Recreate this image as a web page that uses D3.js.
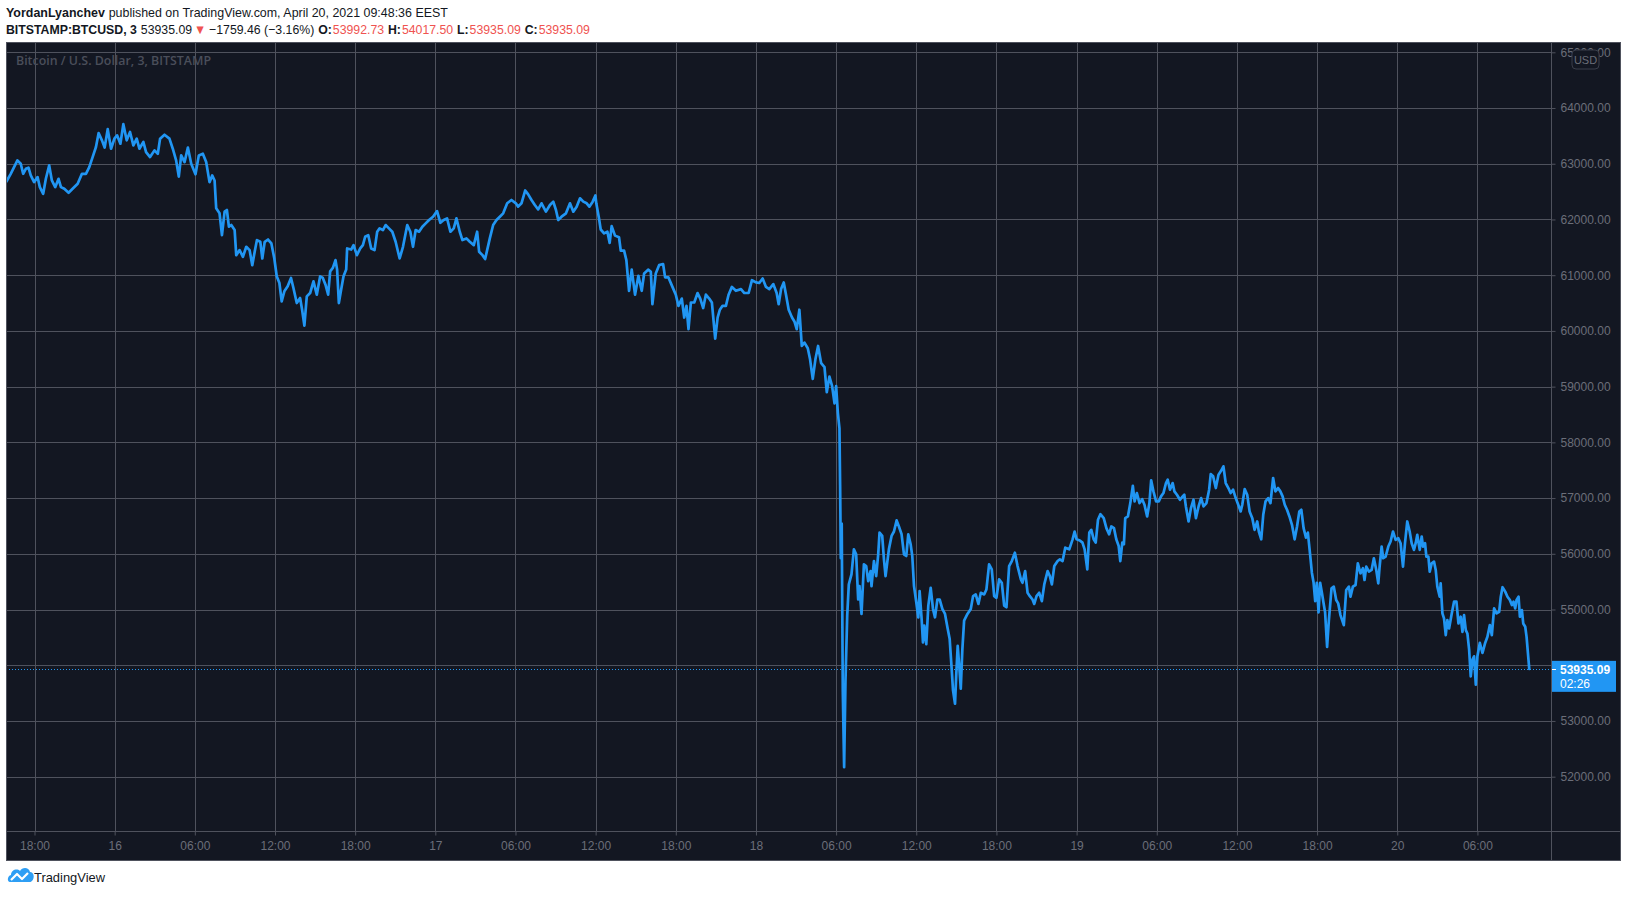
<!DOCTYPE html>
<html>
<head>
<meta charset="utf-8">
<script src="https://cdnjs.cloudflare.com/ajax/libs/d3/7.8.5/d3.min.js"></script>
<style>
  body { margin: 0; background: #ffffff; }
  svg { display: block; font-family: "Liberation Sans", Arial, sans-serif; }
</style>
</head>
<body>
<div id="chart"></div>
<script>
// BITSTAMP:BTCUSD, 3 min closes
const seriesStart = "2021-04-15T18:00";
const viewStart = "2021-04-15T15:52";
const viewEnd = "2021-04-20T11:26";

const hoursFromStart = [
  -2.1, -1.78, -1.53, -1.28, -1.03, -0.85, -0.65, -0.45, -0.28, -0.03, 0.23, 0.4, 0.65, 0.85, 1.1, 1.3, 1.55, 1.8, 1.98, 2.23,
  2.55, 2.85, 3.23, 3.55, 3.85, 4.1, 4.35, 4.6, 4.8, 5.05, 5.25, 5.48, 5.73, 5.98, 6.18, 6.43, 6.65, 6.9, 7.15, 7.4,
  7.65, 7.85, 8.15, 8.35, 8.65, 8.98, 9.23, 9.4, 9.73, 10.1, 10.35, 10.6, 10.8, 10.98, 11.23, 11.48, 11.73, 12.05, 12.3, 12.6,
  12.85, 13.1, 13.3, 13.48, 13.6, 13.85, 14.03, 14.23, 14.4, 14.55, 14.73, 14.98, 15.1, 15.35, 15.6, 15.85, 16.1, 16.3, 16.48, 16.65,
  16.9, 17.05, 17.23, 17.48, 17.73, 17.95, 18.13, 18.33, 18.5, 18.7, 18.95, 19.2, 19.38, 19.63, 19.88, 20.03, 20.2, 20.38, 20.63, 20.88,
  21.13, 21.38, 21.58, 21.78, 21.98, 22.13, 22.33, 22.53, 22.65, 22.78, 22.95, 23.13, 23.33, 23.4, 23.7, 23.88, 24.13, 24.38, 24.58, 24.75,
  24.98, 25.2, 25.45, 25.65, 25.83, 26.08, 26.28, 26.53, 26.78, 27.03, 27.33, 27.58, 27.9, 28.13, 28.33, 28.53, 28.78, 29.03, 29.28, 29.53,
  29.83, 30.13, 30.38, 30.63, 30.88, 31.13, 31.38, 31.58, 31.83, 32.03, 32.33, 32.58, 32.88, 33.13, 33.28, 33.53, 33.73, 33.88, 34.08, 34.33,
  34.58, 34.83, 35.08, 35.38, 35.7, 36.03, 36.2, 36.45, 36.73, 36.95, 37.2, 37.45, 37.7, 37.95, 38.28, 38.58, 38.83, 39.03, 39.2, 39.45,
  39.78, 40.08, 40.33, 40.58, 40.83, 41.08, 41.33, 41.53, 41.78, 41.98, 42.05, 42.25, 42.38, 42.63, 42.88, 43.05, 43.2, 43.45, 43.75, 43.88,
  44.13, 44.3, 44.5, 44.7, 44.95, 45.2, 45.45, 45.63, 45.95, 46.13, 46.25, 46.5, 46.75, 47.05, 47.2, 47.45, 47.75, 48.0, 48.2, 48.45,
  48.63, 48.8, 48.95, 49.13, 49.38, 49.63, 49.83, 50.05, 50.25, 50.5, 50.7, 50.95, 51.13, 51.3, 51.5, 51.75, 51.95, 52.2, 52.5, 52.88,
  53.13, 53.45, 53.7, 54.0, 54.25, 54.5, 54.75, 55.0, 55.3, 55.55, 55.7, 55.88, 56.08, 56.25, 56.45, 56.7, 56.88, 57.05, 57.25, 57.43,
  57.63, 57.88, 58.05, 58.25, 58.45, 58.65, 58.88, 59.13, 59.3, 59.5, 59.7, 59.88, 60.0, 60.13, 60.25, 60.3, 60.35, 60.42, 60.5, 60.6,
  60.7, 60.83, 60.95, 61.15, 61.33, 61.5, 61.65, 61.75, 61.9, 62.08, 62.25, 62.4, 62.58, 62.65, 62.83, 63.0, 63.15, 63.25, 63.45, 63.58,
  63.7, 63.95, 64.15, 64.33, 64.53, 64.7, 64.9, 65.08, 65.25, 65.4, 65.58, 65.7, 65.83, 66.0, 66.15, 66.25, 66.4, 66.5, 66.6, 66.75,
  66.9, 67.08, 67.25, 67.4, 67.58, 67.75, 67.95, 68.15, 68.33, 68.5, 68.65, 68.75, 68.9, 69.0, 69.1, 69.25, 69.33, 69.45, 69.58, 69.83,
  70.08, 70.25, 70.45, 70.65, 70.83, 71.08, 71.25, 71.45, 71.65, 71.83, 72.0, 72.2, 72.4, 72.58, 72.75, 72.95, 73.15, 73.38, 73.58, 73.83,
  73.95, 74.15, 74.33, 74.5, 74.7, 74.83, 75.0, 75.2, 75.4, 75.58, 75.83, 76.0, 76.15, 76.33, 76.58, 76.75, 76.95, 77.15, 77.45, 77.7,
  77.85, 78.0, 78.24, 78.44, 78.6, 78.8, 78.95, 79.1, 79.28, 79.43, 79.6, 79.78, 80.03, 80.23, 80.43, 80.6, 80.8, 80.97, 81.15, 81.27,
  81.42, 81.54, 81.64, 81.84, 82.02, 82.21, 82.34, 82.51, 82.71, 82.91, 83.08, 83.28, 83.45, 83.58, 83.75, 83.95, 84.15, 84.32, 84.5, 84.69,
  84.82, 84.99, 85.19, 85.32, 85.51, 85.74, 85.94, 86.06, 86.18, 86.38, 86.56, 86.75, 86.93, 87.13, 87.32, 87.5, 87.72, 87.92, 88.04, 88.22,
  88.42, 88.62, 88.79, 88.99, 89.16, 89.36, 89.53, 89.71, 89.91, 90.1, 90.28, 90.4, 90.58, 90.77, 90.95, 91.15, 91.32, 91.52, 91.64, 91.82,
  91.97, 92.14, 92.34, 92.51, 92.71, 92.88, 93.08, 93.25, 93.42, 93.58, 93.75, 93.93, 94.12, 94.32, 94.5, 94.67, 94.82, 94.99, 95.17, 95.31,
  95.49, 95.61, 95.74, 95.86, 95.98, 96.11, 96.23, 96.36, 96.48, 96.6, 96.75, 96.88, 97.08, 97.25, 97.43, 97.58, 97.75, 98.0, 98.18, 98.38,
  98.5, 98.68, 98.88, 99.05, 99.25, 99.43, 99.55, 99.68, 99.88, 100.08, 100.25, 100.43, 100.58, 100.68, 100.83, 100.95, 101.13, 101.33, 101.5, 101.68,
  101.88, 102.08, 102.25, 102.43, 102.58, 102.75, 102.93, 103.08, 103.25, 103.38, 103.5, 103.68, 103.83, 103.93, 104.08, 104.18, 104.33, 104.43, 104.58, 104.75,
  104.88, 105.0, 105.18, 105.25, 105.38, 105.5, 105.63, 105.75, 105.88, 106.08, 106.25, 106.43, 106.58, 106.75, 106.88, 107.0, 107.13, 107.25, 107.38, 107.5,
  107.63, 107.75, 107.88, 108.0, 108.18, 108.38, 108.58, 108.75, 108.93, 109.08, 109.25, 109.43, 109.63, 109.75, 109.88, 110.08, 110.25, 110.43, 110.58, 110.7,
  110.83, 110.93, 111.08, 111.18, 111.33, 111.43, 111.58, 111.68, 111.78, 111.88
];

const closePrices = [
  62680, 62820, 62940, 63060, 63000, 62820, 62910, 62930, 62790, 62670, 62760, 62580, 62460, 62730, 62970, 62700, 62580, 62730, 62580, 62550,
  62480, 62550, 62640, 62820, 62820, 62940, 63120, 63300, 63550, 63420, 63290, 63620, 63270, 63450, 63510, 63360, 63710, 63420, 63570, 63330,
  63450, 63270, 63390, 63210, 63120, 63240, 63180, 63450, 63520, 63450, 63270, 63060, 62770, 63150, 63030, 63290, 63000, 62810, 63150, 63180,
  63030, 62670, 62790, 62700, 62200, 62110, 61720, 62140, 62170, 61870, 61900, 61810, 61360, 61450, 61330, 61510, 61450, 61180, 61420, 61630,
  61600, 61300, 61600, 61640, 61570, 61300, 60980, 60860, 60530, 60710, 60800, 60950, 60770, 60500, 60590, 60380, 60095, 60620, 60680, 60890,
  60650, 60980, 60950, 60830, 60650, 61070, 61130, 61270, 61100, 60500, 60740, 60980, 61100, 61480, 61460, 61540, 61360, 61480, 61540, 61690,
  61720, 61480, 61450, 61780, 61840, 61810, 61900, 61840, 61780, 61600, 61300, 61510, 61900, 61780, 61510, 61810, 61780, 61870, 61930, 61990,
  62050, 62150, 61940, 61990, 62020, 61780, 61840, 62020, 61780, 61630, 61660, 61600, 61540, 61780, 61420, 61360, 61290, 61450, 61660, 61900,
  61990, 62050, 62110, 62290, 62350, 62290, 62230, 62290, 62520, 62450, 62350, 62260, 62180, 62290, 62140, 62260, 62320, 62170, 61990, 62050,
  62110, 62290, 62140, 62230, 62380, 62320, 62290, 62230, 62320, 62430, 62290, 62020, 61820, 61750, 61780, 61580, 61880, 61710, 61680, 61440,
  61440, 61270, 60720, 61100, 60650, 60990, 60720, 61030, 61100, 61060, 60480, 61030, 61180, 61200, 60960, 60960, 60790, 60650, 60450, 60580,
  60240, 60450, 60030, 60510, 60510, 60680, 60580, 60410, 60650, 60580, 60510, 59860, 60240, 60380, 60450, 60450, 60650, 60790, 60720, 60750,
  60680, 60680, 60910, 60870, 60860, 60940, 60790, 60750, 60840, 60680, 60480, 60750, 60870, 60650, 60380, 60240, 60170, 60030, 60380, 59730,
  59790, 59690, 59490, 59140, 59490, 59730, 59420, 59350, 58900, 59180, 59010, 58700, 59010, 58530, 58250, 57230, 55920, 56540, 53530, 52170,
  53700, 54890, 55450, 55630, 56080, 55990, 55180, 55420, 54920, 55810, 55780, 55510, 55690, 55420, 55870, 55600, 55990, 56380, 56320, 55900,
  55600, 56080, 56320, 56400, 56600, 56490, 56350, 55990, 55960, 56350, 56170, 55960, 55420, 55130, 54860, 55330, 54830, 54410, 54710, 54380,
  55070, 55390, 55010, 54860, 55180, 55180, 55010, 54920, 54680, 54470, 53930, 53550, 53310, 53870, 54350, 53870, 53580, 54290, 54800, 54920,
  55010, 55240, 55270, 55100, 55300, 55270, 55360, 55810, 55720, 55240, 55210, 55540, 55480, 55070, 55040, 55780, 55870, 56020, 55780, 55540,
  55480, 55690, 55300, 55240, 55180, 55100, 55240, 55300, 55150, 55450, 55690, 55600, 55450, 55780, 55870, 55900, 55870, 56110, 56080, 56260,
  56400, 56260, 56240, 56200, 56080, 55720, 56380, 56430, 56260, 56200, 56610, 56710, 56640, 56460, 56350, 56490, 56460, 56260, 56140, 55870,
  56200, 56170, 56640, 56670, 56910, 57220, 56940, 57090, 56910, 56980, 56880, 56670, 56910, 57320, 57120, 56940, 56940, 57030, 57090, 57270,
  57330, 57150, 57270, 57120, 57060, 56970, 57030, 57060, 56850, 56580, 56820, 56970, 56640, 56850, 57000, 56850, 56910, 57150, 57430, 57390,
  57180, 57420, 57480, 57570, 57270, 57180, 57090, 57150, 57000, 56880, 56760, 56880, 57160, 57060, 56760, 56640, 56430, 56580, 56400, 56260,
  56700, 56940, 57000, 56910, 57360, 57120, 57180, 57120, 57030, 56880, 56790, 56670, 56520, 56260, 56490, 56760, 56790, 56460, 56290, 56380,
  55960, 55660, 55480, 55150, 55480, 54950, 55480, 55300, 55120, 54950, 54330, 54800, 55380, 55410, 55170, 55110, 54900, 54720, 55350, 55410,
  55230, 55410, 55440, 55830, 55650, 55740, 55530, 55770, 55680, 55710, 55920, 55710, 55470, 55770, 56130, 55920, 55950, 56130, 56220, 56400,
  56250, 56280, 56190, 55770, 56190, 56580, 56400, 56190, 56070, 56190, 56340, 56070, 56310, 56130, 56190, 55950, 55950, 55680, 55830, 55860,
  55710, 55410, 55230, 55470, 54930, 54840, 54540, 54810, 54660, 54930, 55140, 55140, 54750, 54870, 54600, 54900, 54630, 54570, 54280, 53800,
  54100, 54160, 53650, 54160, 54400, 54220, 54400, 54510, 54720, 54540, 55020, 54930, 54960, 55230, 55400, 55320, 55230, 55170, 55080, 55140,
  55020, 55170, 55230, 54870, 54990, 54750, 54690, 54510, 54220, 53935.09
];

const priceTicks = [52000, 53000, 54000, 55000, 56000, 57000, 58000, 59000, 60000, 61000, 62000, 63000, 64000, 65000];
const xTickLabels = ["18:00", "16", "06:00", "12:00", "18:00", "17", "06:00", "12:00", "18:00", "18",
  "06:00", "12:00", "18:00", "19", "06:00", "12:00", "18:00", "20", "06:00"];
const lastPrice = 53935.09;
const barCountdown = "02:26";

const W = 1627, H = 897;
const pane = { left: 6, top: 43, right: 1551, bottom: 831 };
const outer = { right: 1620, bottom: 860 };
const gridColor = "#4f525d";
const textColor = "#6b6e79";
const blue = "#2196f3";

const parse = d3.timeParse("%Y-%m-%dT%H:%M");
const t0 = parse(seriesStart);
const data = hoursFromStart.map((h, i) => ({
  date: new Date(t0.getTime() + h * 3600e3),
  price: closePrices[i]
}));

const x = d3.scaleTime()
  .domain([parse(viewStart), parse(viewEnd)])
  .range([pane.left, pane.right - 1]);
const y = d3.scaleLinear()
  .domain([51025, 65167])
  .range([pane.bottom, pane.top]);

const xTicks = d3.timeHour.every(6).range(t0, new Date(t0.getTime() + 109 * 3600e3));

const svg = d3.select("#chart").append("svg")
  .attr("width", W)
  .attr("height", H);

// dark chart block
svg.append("rect")
  .attr("x", pane.left).attr("y", pane.top)
  .attr("width", outer.right - pane.left).attr("height", outer.bottom - pane.top)
  .attr("fill", "#131722");

// grid
svg.append("g")
  .selectAll("line")
  .data(priceTicks)
  .join("line")
  .attr("x1", pane.left).attr("x2", pane.right)
  .attr("y1", d => Math.round(y(d)) + 0.5).attr("y2", d => Math.round(y(d)) + 0.5)
  .attr("stroke", gridColor);

svg.append("g")
  .selectAll("line")
  .data(xTicks)
  .join("line")
  .attr("x1", d => Math.round(x(d)) + 0.5).attr("x2", d => Math.round(x(d)) + 0.5)
  .attr("y1", pane.top).attr("y2", pane.bottom)
  .attr("stroke", gridColor);

// watermark legend
svg.append("text")
  .attr("x", 16).attr("y", 65)
  .attr("fill", "#4a4e5a")
  .style("font-family", "'Open Sans', sans-serif")
  .style("font-size", "12.5px")
  .style("font-weight", 600)
  .attr("textLength", 195)
  .attr("lengthAdjust", "spacingAndGlyphs")
  .text("Bitcoin / U.S. Dollar, 3, BITSTAMP");

// last price dotted line
svg.append("line")
  .attr("x1", pane.left).attr("x2", pane.right)
  .attr("y1", Math.round(y(lastPrice)) + 0.5).attr("y2", Math.round(y(lastPrice)) + 0.5)
  .attr("stroke", blue)
  .attr("stroke-dasharray", "1,2");

// price line
svg.append("clipPath").attr("id", "paneClip")
  .append("rect")
  .attr("x", pane.left).attr("y", pane.top)
  .attr("width", pane.right - pane.left).attr("height", pane.bottom - pane.top);

const line = d3.line()
  .x(d => x(d.date))
  .y(d => y(d.price));

svg.append("path")
  .datum(data)
  .attr("clip-path", "url(#paneClip)")
  .attr("fill", "none")
  .attr("stroke", blue)
  .attr("stroke-width", 2.7)
  .attr("stroke-linejoin", "round")
  .attr("stroke-linecap", "round")
  .attr("d", line);

// axes
const yAxis = d3.axisRight(y)
  .tickValues(priceTicks)
  .tickSize(4)
  .tickPadding(5)
  .tickFormat(d => d3.format(".2f")(d));

const yG = svg.append("g")
  .attr("transform", `translate(${pane.right + 0.5},0)`)
  .call(yAxis);
yG.select(".domain").remove();
yG.selectAll(".tick line").attr("stroke", gridColor);
yG.selectAll(".tick text")
  .attr("fill", textColor)
  .style("font-size", "12px")
  .style("font-family", "'Liberation Sans', Arial, sans-serif");
// the 54000 label sits under the last-price badge, so it is not shown
yG.selectAll(".tick").filter(d => Math.abs(y(d) - y(lastPrice)) < 14).select("text").remove();

const xAxis = d3.axisBottom(x)
  .tickValues(xTicks)
  .tickSize(4)
  .tickPadding(6)
  .tickFormat((d, i) => xTickLabels[i]);

const xG = svg.append("g")
  .attr("transform", `translate(0,${pane.bottom + 0.5})`)
  .call(xAxis);
xG.select(".domain").remove();
xG.selectAll(".tick line").attr("stroke", gridColor);
xG.selectAll(".tick text")
  .attr("fill", textColor)
  .style("font-size", "12px")
  .style("font-family", "'Liberation Sans', Arial, sans-serif");

// frame: outer border, pane divider, time axis line
svg.append("rect")
  .attr("x", pane.left + 0.5).attr("y", pane.top - 0.5)
  .attr("width", outer.right - pane.left).attr("height", outer.bottom - pane.top + 1)
  .attr("fill", "none")
  .attr("stroke", gridColor);
svg.append("line")
  .attr("x1", pane.right + 0.5).attr("x2", pane.right + 0.5)
  .attr("y1", pane.top).attr("y2", outer.bottom)
  .attr("stroke", gridColor);
svg.append("line")
  .attr("x1", pane.left).attr("x2", outer.right)
  .attr("y1", pane.bottom + 0.5).attr("y2", pane.bottom + 0.5)
  .attr("stroke", gridColor);

// currency badge
const usd = svg.append("g").attr("transform", "translate(1572,50)");
usd.append("rect")
  .attr("width", 27).attr("height", 19).attr("rx", 4)
  .attr("fill", "#131722").attr("stroke", "#3a3e4a");
usd.append("text")
  .attr("x", 13.5).attr("y", 13.5)
  .attr("text-anchor", "middle")
  .attr("fill", textColor)
  .style("font-size", "11px")
  .text("USD");

// last price label
const ly = y(lastPrice);
svg.append("rect")
  .attr("x", pane.right + 1).attr("y", ly - 8)
  .attr("width", 64).attr("height", 31)
  .attr("fill", blue);
svg.append("line")
  .attr("x1", pane.right + 1).attr("x2", pane.right + 5)
  .attr("y1", Math.round(ly) + 0.5).attr("y2", Math.round(ly) + 0.5)
  .attr("stroke", "#ffffff");
svg.append("text")
  .attr("x", 1560).attr("y", ly + 5)
  .attr("fill", "#ffffff")
  .style("font-size", "12px").style("font-weight", "bold")
  .text(d3.format(".2f")(lastPrice));
svg.append("text")
  .attr("x", 1560).attr("y", ly + 19)
  .attr("fill", "#ffffff")
  .style("font-size", "12px")
  .text(barCountdown);

// header: pieces laid out one after another, then squeezed to the reference width
const red = "#ef5350";
const ink = "#131722";
function headerLine(yPos, pieces, targetWidth) {
  const g = svg.append("g");
  let cx = 0;
  pieces.forEach(p => {
    const t = g.append("text")
      .attr("x", cx).attr("y", 0)
      .attr("fill", p.color || ink)
      .style("font-size", "13px")
      .style("font-weight", p.bold ? "bold" : "normal")
      .text(p.text);
    cx += t.node().getComputedTextLength() + (p.gap || 0);
  });
  g.attr("transform", `translate(6,${yPos}) scale(${targetWidth / cx},1)`);
}

headerLine(17, [
  { text: "YordanLyanchev", bold: true, gap: 4 },
  { text: "published on TradingView.com, April 20, 2021 09:48:36 EEST" }
], 442);

const ohlc = [["O:", "53992.73"], ["H:", "54017.50"], ["L:", "53935.09"], ["C:", "53935.09"]];
const line2 = [
  { text: "BITSTAMP:BTCUSD, 3", bold: true, gap: 4 },
  { text: "53935.09", gap: 2 },
  { text: "▼", color: red, gap: 3 },
  { text: "−1759.46 (−3.16%)", gap: 4 }
];
ohlc.forEach(([k, v], i) => {
  line2.push({ text: k, bold: true, gap: 1 });
  line2.push({ text: v, color: red, gap: i < 3 ? 4 : 0 });
});
headerLine(34, line2, 584);

// TradingView footer logo
const logo = svg.append("g").attr("transform", "translate(8,866)");
logo.append("path")
  .attr("d", "M2,16 C-1,16 -1,10 3,9 C3,4 9,2 12,5 C14,1 21,1 22,6 C26,6 27,12 24,15 C23,16 22,16 21,16 Z")
  .attr("fill", "#2e9ef4");
logo.append("path")
  .attr("d", "M3,14 L9,8 L14,13 L20,7")
  .attr("fill", "none")
  .attr("stroke", "#ffffff")
  .attr("stroke-width", 2.2)
  .attr("stroke-linejoin", "round");
svg.append("text")
  .attr("x", 34).attr("y", 882)
  .attr("fill", ink)
  .style("font-size", "13px")
  .attr("textLength", 71)
  .attr("lengthAdjust", "spacingAndGlyphs")
  .text("TradingView");
</script>
</body>
</html>
